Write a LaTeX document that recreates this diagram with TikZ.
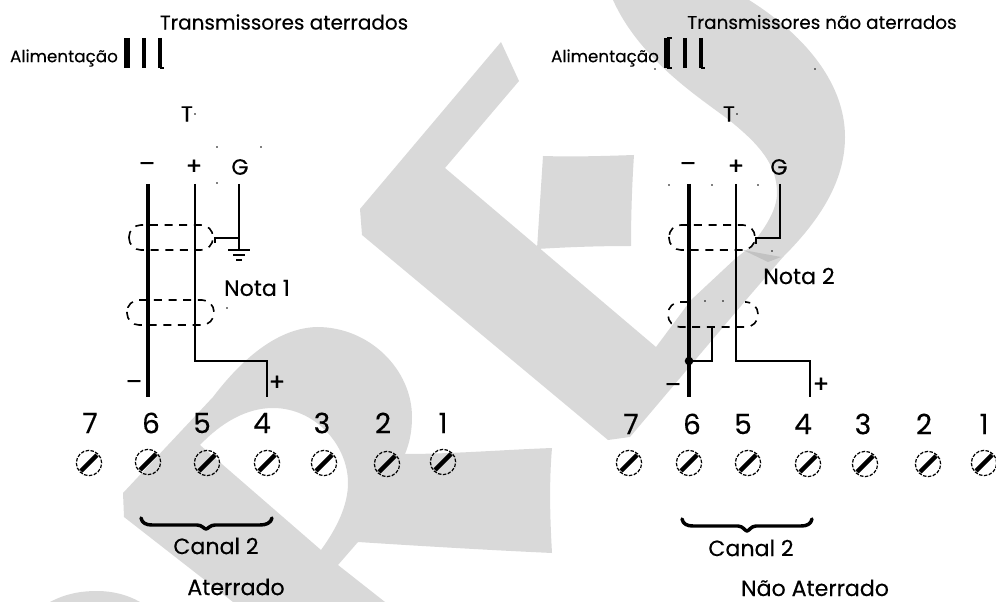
\documentclass[tikz,border=0pt]{standalone}
\usepackage{fontspec}
\setmainfont{Poppins}[FakeBold=0.25]
\definecolor{wmgrey}{HTML}{D9D9D9}
\definecolor{wmdark}{HTML}{C2C2C2}
\tikzset{
 txt/.style={inner sep=0pt,outer sep=0pt,text=black},
 title/.style={txt,font=\fontsize{15}{16}\selectfont},
 titleb/.style={txt,font=\fontsize{13.8}{16}\selectfont},
 small/.style={txt,font=\fontsize{12.6}{14}\selectfont},
 note/.style={txt,font=\fontsize{16.6}{18}\selectfont},
 digit/.style={txt,font=\fontsize{21}{24}\selectfont},
 sign/.style={txt,font=\fontsize{18}{20}\selectfont},
 heavy/.style={line width=2.7pt,black},
 wire/.style={line width=1.5pt,black},
 bar/.style={line width=4.2pt,black},
 midbar/.style={line width=2.8pt,black},
 foot/.style={line width=1.6pt,black},
 shield/.style={line width=1.2pt,black,dash pattern=on 6pt off 5pt,rounded corners=9pt},
 speck/.style={fill=black,circle,inner sep=0pt,minimum size=1.3pt},
 brace/.style={line width=2.6pt,black,line join=round,line cap=round},
 screw/.style={circle,draw=black,line width=.9pt,dash pattern=on 2.6pt off 1.1pt,minimum size=19pt,inner sep=0pt,
   path picture={\draw[line width=3.2pt,solid,black] (path picture bounding box.south west)++(3.5pt,3.5pt) -- ([xshift=-3.5pt,yshift=-3.5pt]path picture bounding box.north east);}},
}
\begin{document}
\begin{tikzpicture}[x=0.75pt,y=-0.75pt]
\path[use as bounding box] (0,0) rectangle (996,602);
% watermark
\fill[wmgrey] (501,42) -- (519,81) -- (445,168) -- (656,347) -- (691,300) -- (736,258) -- (749,248)
 .. controls (762,232) and (777,212) .. (777,193)
 .. controls (777,165) and (760,145) .. (729,120)
 .. controls (700,98) and (640,60) .. (613,0)
 -- (749,0)
 .. controls (800,32) and (845,80) .. (845,137)
 .. controls (845,185) and (815,225) .. (783,257)
 -- (746,300) -- (630,437) -- (608,440) -- (362,235) -- (360,209) -- cycle;
\fill[wmgrey] (543,156) .. controls (573,157) and (604,156) .. (634,155)
 .. controls (632,185) and (631,216) .. (631,246)
 .. controls (600,246) and (569,247) .. (537,249)
 .. controls (539,218) and (541,187) .. (543,156) -- cycle;
\fill[wmgrey,even odd rule] (123,493) -- (213,397)
 .. controls (245,355) and (280,328) .. (317,327)
 .. controls (370,327) and (412,370) .. (412,417)
 .. controls (412,430) and (410,442) .. (405,454)
 .. controls (450,454) and (500,450) .. (552,448)
 .. controls (549,483) and (550,518) .. (552,553)
 .. controls (487,550) and (420,546) .. (358,542)
 -- (338,565) -- (385,602) -- (233,602) -- (124,517) -- cycle
 (200,445) .. controls (222,422) and (247,408) .. (273,408)
 .. controls (315,408) and (348,445) .. (348,483)
 .. controls (348,505) and (337,528) .. (321,550) -- cycle;
\fill[wmgrey] (50,602) .. controls (65,594) and (80,591) .. (97,591) .. controls (113,591) and (128,595) .. (140,602) -- cycle;
\fill[wmdark] (743,250) -- (781,257) -- (768,262) -- cycle;

% ---------- left diagram
\node[title] (tl) at (284,22) {Transmissores aterrados};
\node[small] (al) at (64,58) {Alimentação};
\coordinate (la1) at (127,38); \coordinate (la1b) at (127,68);
\coordinate (la2) at (144,38); \coordinate (la2b) at (144,68);
\coordinate (la3) at (160,38); \coordinate (la3b) at (160,68); \coordinate (la3c) at (164,68);
\draw[bar] (la1) -- (la1b);
\draw[midbar] (la2) -- (la2b);
\draw[midbar] (la3) -- (la3b);
\draw[foot] (la3b) -- (la3c);
\node[note] (lt) at (187,114) {T};
\node[speck] (ls0) at (195,114) {};
\node[speck] (ls1) at (217,147) {};
\node[speck] (ls2) at (261,147) {};
\node[speck] (ls3) at (217,183) {};
\node[speck] (ls4) at (227,308) {};
\node[sign] (lm) at (147,167) {–};
\node[sign] (lp) at (194,167) {+};
\node[note] (lg) at (240,167) {G};
\coordinate (lm0) at (148,184); \coordinate (lm1) at (148,397);
\coordinate (lp0) at (195,184); \coordinate (lp1) at (195,361); \coordinate (lp2) at (267,361); \coordinate (lp3) at (267,397);
\coordinate (lg0) at (239,184); \coordinate (lg1) at (239,238); \coordinate (lg2) at (215,238); \coordinate (lg3) at (215,243); \coordinate (lg4) at (239,250);
\draw[heavy] (lm0) -- (lm1);
\draw[wire] (lp0) -- (lp1) -- (lp2) -- (lp3);
\draw[wire] (lg0) -- (lg4);
\draw[wire] (lg3) -- (lg2) -- (lg1);
\draw[wire] (228,250) -- (250,250);
\draw[wire] (233,255) -- (245,255);
\draw[wire] (236,260) -- (242,260);
\draw[shield] (129,225) rectangle (213,250);
\draw[shield] (127,300) rectangle (214,325);
\node[note] (ln) at (257,288) {Nota 1};
\node[sign] (lmm) at (134,385) {–};
\node[sign] (lpp) at (277,383) {+};
\foreach \n/\x in {7/90,6/151,5/202,4/262,3/322,2/383,1/443}
  \node[digit] (ld\n) at (\x,423) {\n};
\node[screw] (ls7s) at (89,463) {};
\node[screw] (ls6s) at (148,462) {};
\node[screw] (ls5s) at (207,463) {};
\node[screw] (ls4s) at (267,463) {};
\node[screw] (ls3s) at (324,463) {};
\node[screw] (ls2s) at (387,464) {};
\node[screw] (ls1s) at (443,462) {};
\draw[brace] (141,518) .. controls (142,523) and (146,525) .. (152,525) -- (197,525) .. controls (202,525) and (204,529) .. (206,529) .. controls (208,529) and (210,525) .. (215,525) -- (260,525) .. controls (266,525) and (271,523) .. (272,518);
\node[note] (lc) at (216,546) {Canal 2};
\node[note] (la) at (236,587) {Aterrado};

% ---------- right diagram
\node[titleb] (rl) at (822,22) {Transmissores não aterrados};
\node[small] (ral) at (605,58) {Alimentação};
\coordinate (ra1) at (667,38); \coordinate (ra1b) at (667,68); \coordinate (ra1c) at (672,68); \coordinate (ra1d) at (672,38);
\coordinate (ra2) at (685,38); \coordinate (ra2b) at (685,68);
\coordinate (ra3) at (701,38); \coordinate (ra3b) at (701,68); \coordinate (ra3c) at (705,68);
\draw[bar] (ra1) -- (ra1b);
\draw[foot] (ra1b) -- (ra1c);
\draw[foot] (ra1) -- (ra1d);
\draw[midbar] (ra2) -- (ra2b);
\draw[midbar] (ra3) -- (ra3b);
\draw[foot] (ra3b) -- (ra3c);
\node[note] (rt) at (729,114) {T};
\node[speck] (rs0) at (737,114) {};
\node[speck] (rs1) at (655,69) {};
\node[speck] (rs2) at (815,69) {};
\node[speck] (rs3) at (669,185) {};
\node[speck] (rs4) at (712,185) {};
\node[speck] (rs5) at (758,185) {};
\node[speck] (rs6) at (772,251) {};
\node[speck] (rs8) at (705,301) {};
\node[speck] (rs9) at (723,301) {};
\node[sign] (rm) at (688,167) {–};
\node[sign] (rp) at (736,167) {+};
\node[note] (rg) at (779,167) {G};
\coordinate (rm0) at (689,184); \coordinate (rm1) at (689,397);
\coordinate (rp0) at (736,184); \coordinate (rp1) at (736,361); \coordinate (rp2) at (810,361); \coordinate (rp3) at (810,397);
\coordinate (rg0) at (780,184); \coordinate (rg1) at (780,238); \coordinate (rg2) at (756,238); \coordinate (rg3) at (756,244);
\coordinate (rj) at (689,361); \coordinate (rj1) at (712,361); \coordinate (rj2) at (712,327);
\draw[heavy] (rm0) -- (rm1);
\draw[wire] (rp0) -- (rp1) -- (rp2) -- (rp3);
\draw[wire] (rg0) -- (rg1) -- (rg2) -- (rg3);
\draw[wire] (rj) -- (rj1) -- (rj2);
\fill[black] (rj) circle (3.2pt);
\draw[shield] (669,225) rectangle (755,250);
\draw[shield] (688,302) -- (668,302) -- (668,327) -- (758,327) -- (758,302) -- (745,302);
\node[note] (rn) at (799,276) {Nota 2};
\node[sign] (rmm) at (673,388) {–};
\node[sign] (rpp) at (821,385) {+};
\foreach \n/\x in {7/631,6/692,5/743,4/803,3/863,2/924,1/984}
  \node[digit] (rd\n) at (\x,424) {\n};
\node[screw] (rs7s) at (629,463) {};
\node[screw] (rs6s) at (689,463) {};
\node[screw] (rs5s) at (748,463) {};
\node[screw] (rs4s) at (808,464) {};
\node[screw] (rs3s) at (865,464) {};
\node[screw] (rs2s) at (928,464) {};
\node[screw] (rs1s) at (984,463) {};
\draw[brace] (682,519) .. controls (683,524) and (687,526) .. (693,526) -- (738,526) .. controls (743,526) and (745,531) .. (747,531) .. controls (749,531) and (751,526) .. (756,526) -- (801,526) .. controls (807,526) and (811,524) .. (812,519);
\node[note] (rc) at (751,548) {Canal 2};
\node[note,anchor=base] (ra) at (815,596) {Não Aterrado};
\end{tikzpicture}
\end{document}
